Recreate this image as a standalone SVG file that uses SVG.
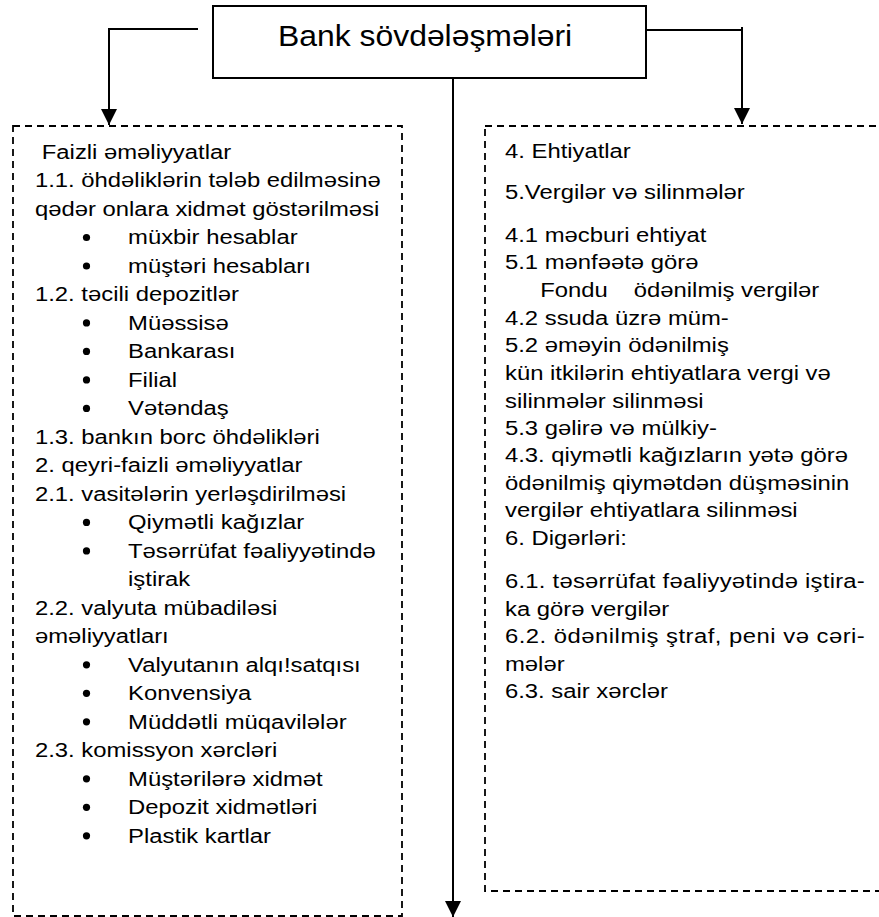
<svg xmlns="http://www.w3.org/2000/svg" width="879" height="917" viewBox="0 0 879 917">
<style>
  text { font-family: "Liberation Sans", Arial, sans-serif; fill: #000; }
  .t { font-size: 21px; }
  .title { font-size: 29px; }
  .bul { fill: #000; }
  .conn { fill: none; stroke: #000; stroke-width: 2; }
  .dash { fill: none; stroke: #000; stroke-width: 1.8; stroke-dasharray: 7 5; }
  .box { fill: #fff; stroke: #000; stroke-width: 2; }
</style>
<defs>
  <marker id="arr" markerUnits="userSpaceOnUse" markerWidth="16" markerHeight="16" refX="16" refY="8" orient="auto" viewBox="0 0 16 16">
    <path d="M0,0 L16,8 L0,16 z" fill="#000"/>
  </marker>
</defs>
<rect width="879" height="917" fill="#fff"/>

<g id="connectors">
  <polyline class="conn" points="198,29 109,29 109,125" marker-end="url(#arr)"/>
  <polyline class="conn" points="646,30 742,30 742,124" marker-end="url(#arr)"/>
  <line class="conn" x1="742" y1="27" x2="742" y2="31"/>
  <line class="conn" x1="453" y1="78" x2="453" y2="917" marker-end="url(#arr)"/>
</g>

<g id="root">
  <rect class="box" x="213" y="6" width="433" height="72"/>
  <g transform="translate(278,46) scale(1.1,1)">
    <text class="title" x="0" y="0">Bank sövdələşmələri</text>
  </g>
</g>

<g id="left">
  <rect class="dash" x="13" y="126" width="389" height="790"/>
  <g class="bul">
    <circle cx="86.5" cy="237.5" r="3.6"/>
    <circle cx="86.5" cy="266" r="3.6"/>
    <circle cx="86.5" cy="322.9" r="3.6"/>
    <circle cx="86.5" cy="351.4" r="3.6"/>
    <circle cx="86.5" cy="379.9" r="3.6"/>
    <circle cx="86.5" cy="408.4" r="3.6"/>
    <circle cx="86.5" cy="522.4" r="3.6"/>
    <circle cx="86.5" cy="550.9" r="3.6"/>
    <circle cx="86.5" cy="664.8" r="3.6"/>
    <circle cx="86.5" cy="693.3" r="3.6"/>
    <circle cx="86.5" cy="721.8" r="3.6"/>
    <circle cx="86.5" cy="778.8" r="3.6"/>
    <circle cx="86.5" cy="807.3" r="3.6"/>
    <circle cx="86.5" cy="835.8" r="3.6"/>
  </g>
  <g transform="translate(35,0) scale(1.135,1)">
    <text class="t" x="6" y="159">Faizli əməliyyatlar</text>
    <text class="t" x="0" y="187.5">1.1. öhdəliklərin tələb edilməsinə</text>
    <text class="t" x="0" y="216">qədər onlara xidmət göstərilməsi</text>
    <text class="t" x="82" y="244.5">müxbir hesablar</text>
    <text class="t" x="82" y="273">müştəri hesabları</text>
    <text class="t" x="0" y="301.5">1.2. təcili depozitlər</text>
    <text class="t" x="82" y="329.9">Müəssisə</text>
    <text class="t" x="82" y="358.4">Bankarası</text>
    <text class="t" x="82" y="386.9">Filial</text>
    <text class="t" x="82" y="415.4">Vətəndaş</text>
    <text class="t" x="0" y="443.9">1.3. bankın borc öhdəlikləri</text>
    <text class="t" x="0" y="472.4">2. qeyri-faizli əməliyyatlar</text>
    <text class="t" x="0" y="500.9">2.1. vasitələrin yerləşdirilməsi</text>
    <text class="t" x="82" y="529.4">Qiymətli kağızlar</text>
    <text class="t" x="82" y="557.9">Təsərrüfat fəaliyyətində</text>
    <text class="t" x="82" y="586.4">iştirak</text>
    <text class="t" x="0" y="614.8">2.2. valyuta mübadiləsi</text>
    <text class="t" x="0" y="643.3">əməliyyatları</text>
    <text class="t" x="82" y="671.8">Valyutanın alqı!satqısı</text>
    <text class="t" x="82" y="700.3">Konvensiya</text>
    <text class="t" x="82" y="728.8">Müddətli müqavilələr</text>
    <text class="t" x="0" y="757.3">2.3. komissyon xərcləri</text>
    <text class="t" x="82" y="785.8">Müştərilərə xidmət</text>
    <text class="t" x="82" y="814.3">Depozit xidmətləri</text>
    <text class="t" x="82" y="842.8">Plastik kartlar</text>
  </g>
</g>

<g id="right">
  <rect class="dash" x="485" y="126" width="410" height="765"/>
  <g transform="translate(505,0) scale(1.135,1)">
    <text class="t" x="0" y="158">4. Ehtiyatlar</text>
    <text class="t" x="0" y="199">5.Vergilər və silinmələr</text>
    <text class="t" x="0" y="242">4.1 məcburi ehtiyat</text>
    <text class="t" x="0" y="269.5">5.1 mənfəətə görə</text>
    <text class="t" x="31" y="297">Fondu</text><text class="t" x="113.5" y="297">ödənilmiş vergilər</text>
    <text class="t" x="0" y="325">4.2 ssuda üzrə müm-</text>
    <text class="t" x="0" y="352.5">5.2 əməyin ödənilmiş</text>
    <text class="t" x="0" y="380">kün itkilərin ehtiyatlara vergi və</text>
    <text class="t" x="0" y="407.5">silinmələr silinməsi</text>
    <text class="t" x="0" y="435">5.3 gəlirə və mülkiy-</text>
    <text class="t" x="0" y="462.5">4.3. qiymətli kağızların yətə görə</text>
    <text class="t" x="0" y="490">ödənilmiş qiymətdən düşməsinin</text>
    <text class="t" x="0" y="517.5">vergilər ehtiyatlara silinməsi</text>
    <text class="t" x="0" y="545">6. Digərləri:</text>
    <text class="t" x="0" y="588" textLength="317" lengthAdjust="spacing">6.1. təsərrüfat fəaliyyətində iştira-</text>
    <text class="t" x="0" y="616">ka görə vergilər</text>
    <text class="t" x="0" y="643.5" textLength="317" lengthAdjust="spacing">6.2. ödənilmiş ştraf, peni və cəri-</text>
    <text class="t" x="0" y="671">mələr</text>
    <text class="t" x="0" y="698">6.3. sair xərclər</text>
  </g>
</g>
</svg>
